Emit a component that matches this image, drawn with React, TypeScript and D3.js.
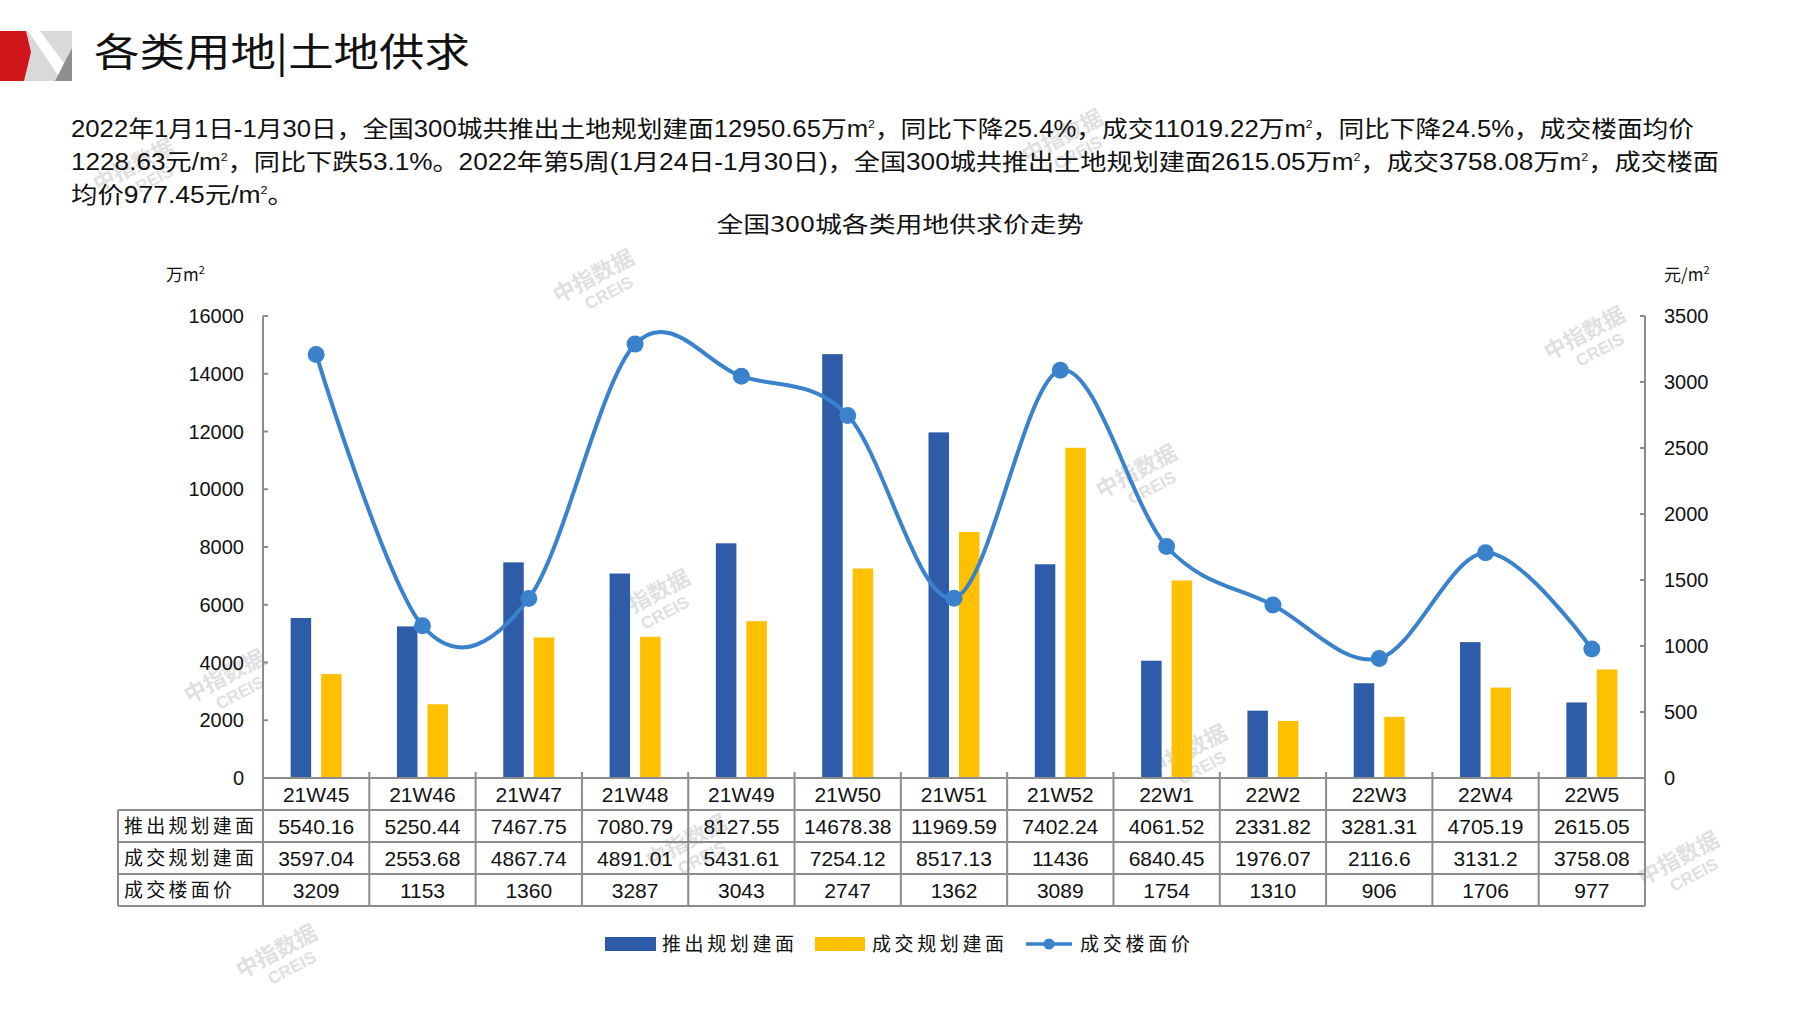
import React from "react";
import * as d3 from "d3";

const categories = ["21W45","21W46","21W47","21W48","21W49","21W50","21W51","21W52","22W1","22W2","22W3","22W4","22W5"];
const supplyArea = [5540.16,5250.44,7467.75,7080.79,8127.55,14678.38,11969.59,7402.24,4061.52,2331.82,3281.31,4705.19,2615.05];
const dealArea = [3597.04,2553.68,4867.74,4891.01,5431.61,7254.12,8517.13,11436,6840.45,1976.07,2116.6,3131.2,3758.08];
const floorPrice = [3209,1153,1360,3287,3043,2747,1362,3089,1754,1310,906,1706,977];
const supplyLabels = ["5540.16","5250.44","7467.75","7080.79","8127.55","14678.38","11969.59","7402.24","4061.52","2331.82","3281.31","4705.19","2615.05"];
const dealLabels = ["3597.04","2553.68","4867.74","4891.01","5431.61","7254.12","8517.13","11436","6840.45","1976.07","2116.6","3131.2","3758.08"];
const priceLabels = ["3209","1153","1360","3287","3043","2747","1362","3089","1754","1310","906","1706","977"];
const leftTicks = [0,2000,4000,6000,8000,10000,12000,14000,16000];
const rightTicks = [0,500,1000,1500,2000,2500,3000,3500];
const seriesNames = ["推出规划建面","成交规划建面","成交楼面价"];
const rowLabels = ["推出规划建面","成交规划建面","成交楼面价"];
const title = "各类用地|土地供求";
const chartTitle = "全国300城各类用地供求价走势";
const paraLines = [
  "2022年1月1日-1月30日，全国300城共推出土地规划建面12950.65万m²，同比下降25.4%，成交11019.22万m²，同比下降24.5%，成交楼面均价",
  "1228.63元/m²，同比下跌53.1%。2022年第5周(1月24日-1月30日)，全国300城共推出土地规划建面2615.05万m²，成交3758.08万m²，成交楼面",
  "均价977.45元/m²。",
];
const watermarks = [
  [597, 283], [1588, 340], [1140, 478], [653, 603], [228, 683], [1190, 758], [690, 848], [1682, 865], [280, 958], [1066, 143], [137, 172],
];

const BLUE = "#2e5ca8";
const YELLOW = "#ffc000";
const LINE = "#3a82cc";
const AXIS = "#8c8c8c";
const NUMFONT = "'Liberation Sans Narrow','Liberation Sans',Arial,sans-serif";
const CJK = "'Noto Sans CJK SC','Noto Sans',sans-serif";

export default function App() {
  const W = 1797, H = 1010;
  const x0 = 263, x1 = 1645, yTop = 316, yBot = 778;
  const rowH = 32;

  const xBand = d3.scaleBand<string>().domain(categories).range([x0, x1]).padding(0);
  const yL = d3.scaleLinear().domain([0, 16000]).range([yBot, yTop]);
  const yR = d3.scaleLinear().domain([0, 3500]).range([yBot, yTop]);
  const bw = xBand.bandwidth();
  const barW = 20.5;
  const cx = (c: string) => (xBand(c) as number) + bw / 2;

  const linePts: [number, number][] = categories.map((c, i) => [cx(c), yR(floorPrice[i])]);
  const lineGen = d3.line().curve(d3.curveCatmullRom.alpha(0));
  const pathD = lineGen(linePts) || "";

  const paraWidths = [1694 - 71, 1719 - 71, 294 - 71];

  const renderPara = (s: string) => {
    const parts = s.split("m²");
    const out: any[] = [];
    parts.forEach((p, i) => {
      if (p.length > 0) out.push(<tspan key={"p" + i} dy={i > 0 ? 9 : 0}>{p}</tspan>);
      if (i < parts.length - 1) {
        out.push(<tspan key={"m" + i}>m</tspan>);
        out.push(<tspan key={"s" + i} fontSize={11} dy={-9}>2</tspan>);
      }
    });
    return out;
  };

  return (
    <svg width={W} height={H} style={{ display: "block", position: "absolute", left: 0, top: 0, background: "#fff" }}>
      <rect x={0} y={0} width={W} height={H} fill="#fff" />
      {watermarks.map(([wx, wy], i) => (
        <g key={"wm" + i} transform={`translate(${wx},${wy}) rotate(-28)`} fill="#d6d6d6" opacity={0.75} fontFamily={CJK} fontWeight={700}>
          <text x={0} y={0} fontSize={22} textAnchor="middle">中指数据</text>
          <text x={6} y={20} fontSize={17} textAnchor="middle" fontFamily="'Liberation Sans',Arial,sans-serif">CREIS</text>
        </g>
      ))}
      <rect x={24} y={31} width={48} height={50} fill="#d9d9d9" />
      <polygon points="28,31 40,31 72,74 72,81 62,81" fill="#ffffff" />
      <polygon points="72,48 72,81 55,81" fill="#8f8f8f" />
      <polygon points="0,31 26,31 31,52 24,81 0,81" fill="#d0161b" />
      <text x={94} y={66} fontSize={39} fontFamily={CJK} fill="#111" textLength={376} lengthAdjust="spacingAndGlyphs">{title}</text>

      {paraLines.map((s, i) => (
        <text key={"para" + i} x={71} y={137 + i * 33} fontSize={23} fontFamily={`${NUMFONT},${CJK}`} fill="#111"
          textLength={paraWidths[i]} lengthAdjust="spacingAndGlyphs">{renderPara(s)}</text>
      ))}

      <text x={900} y={232} fontSize={22} fontFamily={CJK} fill="#111" textAnchor="middle" textLength={367} lengthAdjust="spacingAndGlyphs">{chartTitle}</text>

      <text x={166} y={281} fontSize={17} fontFamily={CJK} fill="#111">万m<tspan fontSize={11} dy={-7}>2</tspan></text>
      <text x={1664} y={281} fontSize={17} fontFamily={CJK} fill="#111">元/m<tspan fontSize={11} dy={-7}>2</tspan></text>

      {categories.map((c, i) => (
        <g key={"bar" + c}>
          <rect x={cx(c) - 5 - barW} y={yL(supplyArea[i])} width={barW} height={yBot - yL(supplyArea[i])} fill={BLUE} />
          <rect x={cx(c) + 5} y={yL(dealArea[i])} width={barW} height={yBot - yL(dealArea[i])} fill={YELLOW} />
        </g>
      ))}

      <line x1={x0} x2={x0} y1={yTop} y2={yBot} stroke={AXIS} strokeWidth={2} />
      {leftTicks.map((t) => (
        <g key={"lt" + t}>
          <line x1={x0} x2={x0 + 5} y1={yL(t)} y2={yL(t)} stroke={AXIS} strokeWidth={2} />
          <text x={244} y={yL(t) + 7} fontSize={20} fontFamily="'Liberation Sans',Arial,sans-serif" textAnchor="end" fill="#111">{t}</text>
        </g>
      ))}
      <line x1={x1} x2={x1} y1={yTop} y2={yBot} stroke={AXIS} strokeWidth={2} />
      {rightTicks.map((t) => (
        <g key={"rt" + t}>
          <line x1={x1 - 5} x2={x1} y1={yR(t)} y2={yR(t)} stroke={AXIS} strokeWidth={2} />
          <text x={1664} y={yR(t) + 7} fontSize={20} fontFamily="'Liberation Sans',Arial,sans-serif" fill="#111">{t}</text>
        </g>
      ))}

      <path d={pathD} fill="none" stroke={LINE} strokeWidth={4} />
      {linePts.map(([px, py], i) => (
        <circle key={"pt" + i} cx={px} cy={py} r={8.5} fill={LINE} />
      ))}

      <g stroke={AXIS} strokeWidth={2}>
        <line x1={x0} x2={x1} y1={yBot} y2={yBot} />
        {[1, 2, 3, 4].map((r) => (
          <line key={"h" + r} x1={118} x2={x1} y1={yBot + r * rowH} y2={yBot + r * rowH} />
        ))}
        <line x1={118} x2={118} y1={yBot + rowH} y2={yBot + 4 * rowH} />
        {categories.map((c) => (
          <line key={"v" + c} x1={xBand(c) as number} x2={xBand(c) as number} y1={yBot - 6} y2={yBot + 4 * rowH} />
        ))}
        <line x1={x1} x2={x1} y1={yBot - 6} y2={yBot + 4 * rowH} />
      </g>
      {categories.map((c, i) => (
        <g key={"tc" + c} fontFamily={`${NUMFONT},${CJK}`} fontSize={21} fill="#111" textAnchor="middle">
          <text x={cx(c)} y={yBot + rowH - 8}>{c}</text>
          <text x={cx(c)} y={yBot + 2 * rowH - 8}>{supplyLabels[i]}</text>
          <text x={cx(c)} y={yBot + 3 * rowH - 8}>{dealLabels[i]}</text>
          <text x={cx(c)} y={yBot + 4 * rowH - 8}>{priceLabels[i]}</text>
        </g>
      ))}
      {rowLabels.map((l, r) => (
        <text key={"rl" + r} x={124} y={yBot + (r + 2) * rowH - 9} fontSize={19} fontFamily={CJK} fill="#111"
          textLength={l.length === 6 ? 130 : 108} lengthAdjust="spacing">{l}</text>
      ))}

      <rect x={605} y={937} width={51} height={14} fill={BLUE} />
      <text x={662} y={951} fontSize={19} fontFamily={CJK} fill="#111" textLength={132} lengthAdjust="spacing">{seriesNames[0]}</text>
      <rect x={815} y={937} width={50} height={14} fill={YELLOW} />
      <text x={872} y={951} fontSize={19} fontFamily={CJK} fill="#111" textLength={132} lengthAdjust="spacing">{seriesNames[1]}</text>
      <line x1={1026} x2={1072} y1={944} y2={944} stroke={LINE} strokeWidth={3.5} />
      <circle cx={1049} cy={944} r={5.5} fill={LINE} />
      <text x={1080} y={951} fontSize={19} fontFamily={CJK} fill="#111" textLength={110} lengthAdjust="spacing">{seriesNames[2]}</text>
    </svg>
  );
}
